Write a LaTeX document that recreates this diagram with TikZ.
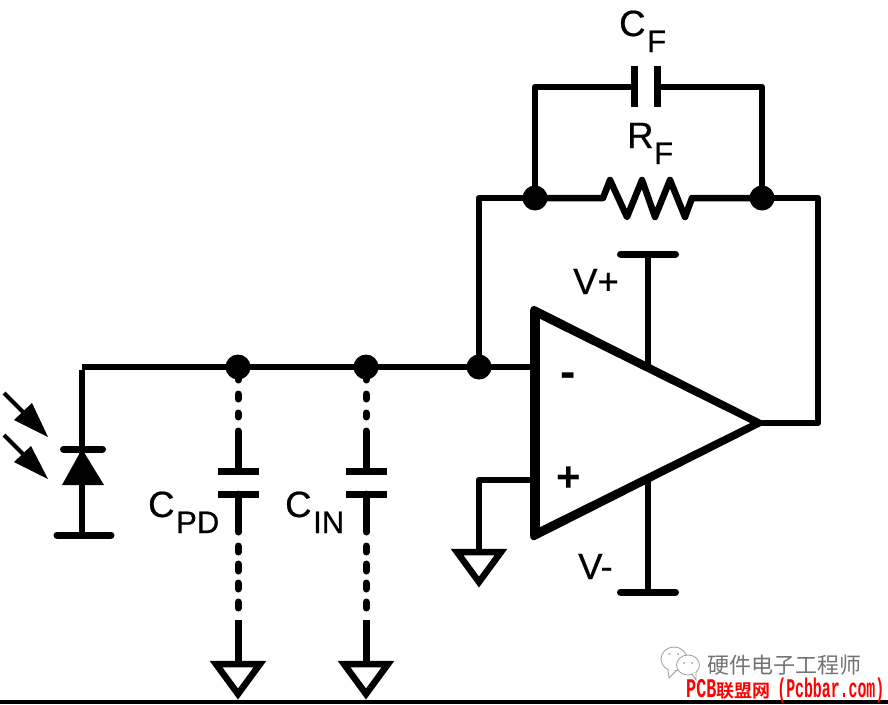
\documentclass[tikz,border=0pt]{standalone}
\usepackage{fontspec}
\setmainfont{Liberation Sans}[FakeBold=0.6]
\newfontfamily\cjkfont{Noto Sans CJK SC}
\newfontfamily\cjkbold{Noto Sans CJK SC Bold}
\newfontfamily\redmono{Liberation Mono Bold}
\newfontfamily\signfont{Liberation Sans Bold}
\usetikzlibrary{calc}
\tikzset{
  wire/.style={line width=6.5pt,line cap=butt,line join=round},
  bar/.style={line width=7pt,line cap=round},
  plate/.style={line width=7pt,line cap=butt},
  dash seg/.style={line width=7pt,line cap=round},
  dot/.style={circle,fill=black,inner sep=0pt,minimum size=25pt},
  gnd/.style={line width=6.5pt,line join=miter,miter limit=10,fill=white},
  lab/.style={font=\fontsize{36.5}{36.5}\selectfont,inner sep=0pt,anchor=base west},
  sublab/.style={font=\fontsize{31}{31}\selectfont,inner sep=0pt,anchor=base west},
  iconline/.style={draw=black!38,line width=0.8pt,fill=white},
}
\begin{document}
\begin{tikzpicture}[x=1pt,y=-1pt]
\useasboundingbox (0,0) rectangle (888,704);
% named points
\coordinate (top) at (82,367);
\coordinate (j1) at (238,367);
\coordinate (j2) at (366,367);
\coordinate (j3) at (479,367);
\coordinate (fbl) at (535,198);
\coordinate (fbr) at (762,198);
\coordinate (inm) at (535,367);
\coordinate (inp) at (535,480);
\coordinate (outtip) at (760,423);
% ---- main wire
\draw[wire] (top) -- (j1) -- (j2) -- (j3) -- (inm);
% ---- photodiode
\coordinate (dk) at (82,449);
\coordinate (da) at (82,535);
\draw[wire] ([yshift=-3.25pt]top) -- (da);
\draw[bar] (63.5,449) -- (102.5,449);
\draw[bar] (57,535) -- (111,535);
\fill (dk) -- (104,485) -- (62,485) -- cycle;
% light arrows
\draw[line width=4pt] (4,393) -- (28,417);
\fill (48,437) -- (32,403) -- (14,420) -- cycle;
\draw[line width=4pt] (4,435) -- (28,459);
\fill (48,479) -- (31,446) -- (14,462) -- cycle;
% ---- C_PD and C_IN
\foreach \X/\J in {238/j1,366/j2}{
  \draw[dash seg] (\J) -- (\X,380);
  \draw[dash seg] (\X,394) -- (\X,399);
  \draw[dash seg] (\X,413) -- (\X,417);
  \draw[dash seg] (\X,431) -- (\X,471);
  \draw[plate] (\X-20,471) -- (\X+21,471);
  \draw[plate] (\X-20,494) -- (\X+21,494);
  \draw[dash seg] (\X,494) -- (\X,532);
  \draw[dash seg] (\X,546) -- (\X,552);
  \draw[dash seg] (\X,564) -- (\X,571);
  \draw[dash seg] (\X,583) -- (\X,589);
  \draw[dash seg] (\X,602) -- (\X,608);
  \draw[line width=7pt] (\X,620) -- (\X,664);
  \draw[gnd] (\X-22,664) -- (\X+22,664) -- (\X,694) -- cycle;
}
\fill (0,700) rectangle (888,704);
% ---- + input and ground
\draw[wire] (inp) -- (479,480) -- (479,552);
\draw[gnd] (457,552) -- (501,552) -- (479,582) -- cycle;
% ---- supplies
\draw[wire] (648,254) -- (648,365);
\draw[bar] (620.5,254) -- (675.5,254);
\draw[wire] (648,481) -- (648,592);
\draw[bar] (620.5,592) -- (675.5,592);
% ---- feedback
\draw[wire] (fbl) -- (603,198) -- (610,180) -- (627,217) -- (642,180) -- (655,217) -- (670,180) -- (685,217) -- (692,198) -- (fbr);
\draw[wire] (j3) -- (479,198) -- (fbl);
\draw[wire] (outtip) -- (818,423) -- (818,198) -- (fbr);
\draw[wire] (fbl) -- (535,87) -- (634,87);
\draw[wire] (657,87) -- (762,87) -- (fbr);
\draw[plate] (634.5,66) -- (634.5,107);
\draw[plate] (657,66) -- (657,107);
% ---- op amp
\fill (767,423) -- (537,307) .. controls (531,304) and (530,309) .. (530,312)
  -- (530,535) .. controls (530,541) and (534,541) .. (537,539) -- cycle;
\fill[white] (750,423) -- (540,319) -- (540,527) -- cycle;
% ---- dots
\node[dot] (d1) at (j1) {};
\node[dot] (d2) at (j2) {};
\node[dot] (d3) at (j3) {};
\node[dot] (d4) at (fbl) {};
\node[dot] (d5) at (fbr) {};
% ---- labels
\node[lab] (cf) at (619,36) {C};
\node[sublab] (cfs) at (647,52) {F};
\node[lab] (rf) at (627,148) {R};
\node[sublab] (rfs) at (654,164) {F};
\node[lab] (vp) at (573,294) {V+};
\node[lab] (vm) at (578,579) {V-};
\node[lab] (cpd) at (148,517) {C};
\node[sublab] (cpds) at (176,533) {PD};
\node[lab] (cin) at (285,517) {C};
\node[sublab] (cins) at (313,533) {IN};
\node[font=\signfont\fontsize{46}{46}\selectfont,inner sep=0pt] (minus) at (568,380) {-};
\node[font=\signfont\fontsize{42}{42}\selectfont,inner sep=0pt] (plus) at (568.5,479) {+};
% ---- watermark
\draw[iconline] (674,659) ellipse (13 and 12);
\draw[iconline] (668,669) -- (669,678) -- (676,671);
\draw[iconline] (688,665) ellipse (11.5 and 10);
\draw[iconline,fill=white] (692,674) -- (696,680) -- (696,672);
\fill[black!40] (669,654) circle (1) (678,654) circle (1) (684,663) circle (1) (692,663) circle (1);
\node[font=\cjkfont\fontsize{22}{22}\selectfont,text=black!55,inner sep=0pt,anchor=west] (wm) at (707,665) {硬件电子工程师};
\node[text=red,inner sep=0pt,anchor=base west] (site) at (686,697) {\scalebox{0.62}[1]{\redmono\fontsize{27}{27}\selectfont PCB}{\cjkbold\fontsize{18}{18}\selectfont 联盟网}\kern7pt\scalebox{0.55}[1]{\redmono\fontsize{27}{27}\selectfont (Pcbbar.com)}};
\end{tikzpicture}
\end{document}
